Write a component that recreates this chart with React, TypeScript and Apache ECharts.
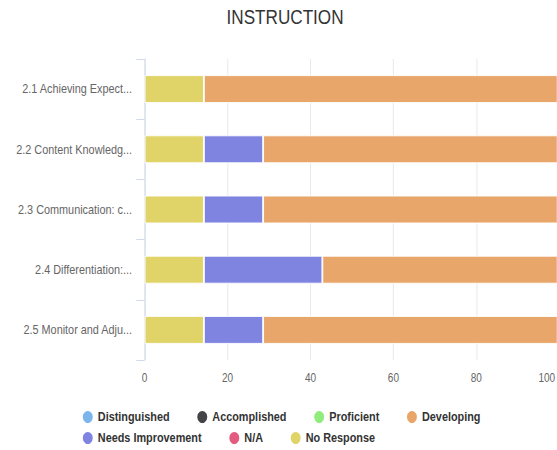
import React, { useEffect, useRef } from "react";
import * as echarts from "echarts";

const categories = [
  "2.1 Achieving Expect...",
  "2.2 Content Knowledg...",
  "2.3 Communication: c...",
  "2.4 Differentiation:...",
  "2.5 Monitor and Adju...",
];
const noResponse = [14.29, 14.29, 14.29, 14.29, 14.29];
const notApplicable = [0, 0, 0, 0, 0];
const needsImprovement = [0, 14.29, 14.29, 28.57, 14.29];
const developing = [85.71, 71.43, 71.43, 57.14, 71.43];
const proficient = [0, 0, 0, 0, 0];
const accomplished = [0, 0, 0, 0, 0];
const distinguished = [0, 0, 0, 0, 0];

const legendRow1 = ["Distinguished", "Accomplished", "Proficient", "Developing"];
const legendRow2 = ["Needs Improvement", "N/A", "No Response"];

const SCALE = 0.836;
const W = 666;
const H = 450;
const FONT = "'Liberation Sans', Arial, sans-serif";

export default function App() {
  const ref = useRef<HTMLDivElement>(null);
  useEffect(() => {
    const chart = echarts.init(ref.current!, null, { renderer: "svg" });
    const mk = (name: string, data: number[], color: string) => ({
      name,
      type: "bar",
      stack: "total",
      data,
      barWidth: 28,
      itemStyle: { color, borderColor: "#ffffff", borderWidth: 1 },
      emphasis: { disabled: true },
    });
    const legendBase = {
      icon: "circle",
      itemWidth: 14,
      itemHeight: 14,
      itemGap: 31,
      textStyle: { fontFamily: FONT, fontSize: 13, fontWeight: "bold", color: "#333333" },
    };
    chart.setOption({
      animation: false,
      backgroundColor: "#ffffff",
      title: {
        text: "INSTRUCTION",
        left: 266,
        top: 1,
        textStyle: { fontFamily: FONT, fontSize: 20.5, fontWeight: "normal", color: "#333333" },
      },
      legend: [
        { ...legendBase, data: legendRow1, left: 92, top: 404 },
        { ...legendBase, data: legendRow2, left: 92, top: 425 },
      ],
      grid: { left: 173, top: 59, width: 496, height: 301, outerBoundsMode: "none" },
      xAxis: {
        type: "value",
        min: 0,
        max: 100,
        interval: 20,
        axisLine: { show: false },
        axisTick: { show: false },
        axisLabel: {
          fontFamily: FONT,
          fontSize: 12,
          color: "#666666",
          margin: 12,
          alignMaxLabel: "right",
          formatter: (v: number) => (v === 100 ? `{last|${v}}` : `${v}`),
          rich: {
            last: { fontFamily: FONT, fontSize: 12, color: "#666666", padding: [0, 5, 0, 0] },
          },
        },
        splitLine: { lineStyle: { color: "#e6e6e6" } },
      },
      yAxis: {
        type: "category",
        data: categories,
        inverse: true,
        axisLine: { show: true, lineStyle: { color: "#ccd6eb" } },
        axisTick: { show: true, length: 10, lineStyle: { color: "#ccd6eb" } },
        axisLabel: { fontFamily: FONT, fontSize: 13, color: "#666666", margin: 15 },
        splitLine: { show: false },
      },
      series: [
        mk("No Response", noResponse, "#e0d468"),
        mk("N/A", notApplicable, "#e25c80"),
        mk("Needs Improvement", needsImprovement, "#8084e1"),
        mk("Developing", developing, "#e9a66a"),
        mk("Proficient", proficient, "#90ed7d"),
        mk("Accomplished", accomplished, "#434348"),
        mk("Distinguished", distinguished, "#7cb5ec"),
      ],
    });
    return () => chart.dispose();
  }, []);
  return (
    <div
      style={{
        position: "fixed",
        left: 0,
        top: 0,
        width: 557,
        height: H,
        overflow: "hidden",
        background: "#ffffff",
      }}
    >
      <div
        ref={ref}
        style={{ width: W, height: H, transform: `scaleX(${SCALE})`, transformOrigin: "0 0" }}
      />
    </div>
  );
}
